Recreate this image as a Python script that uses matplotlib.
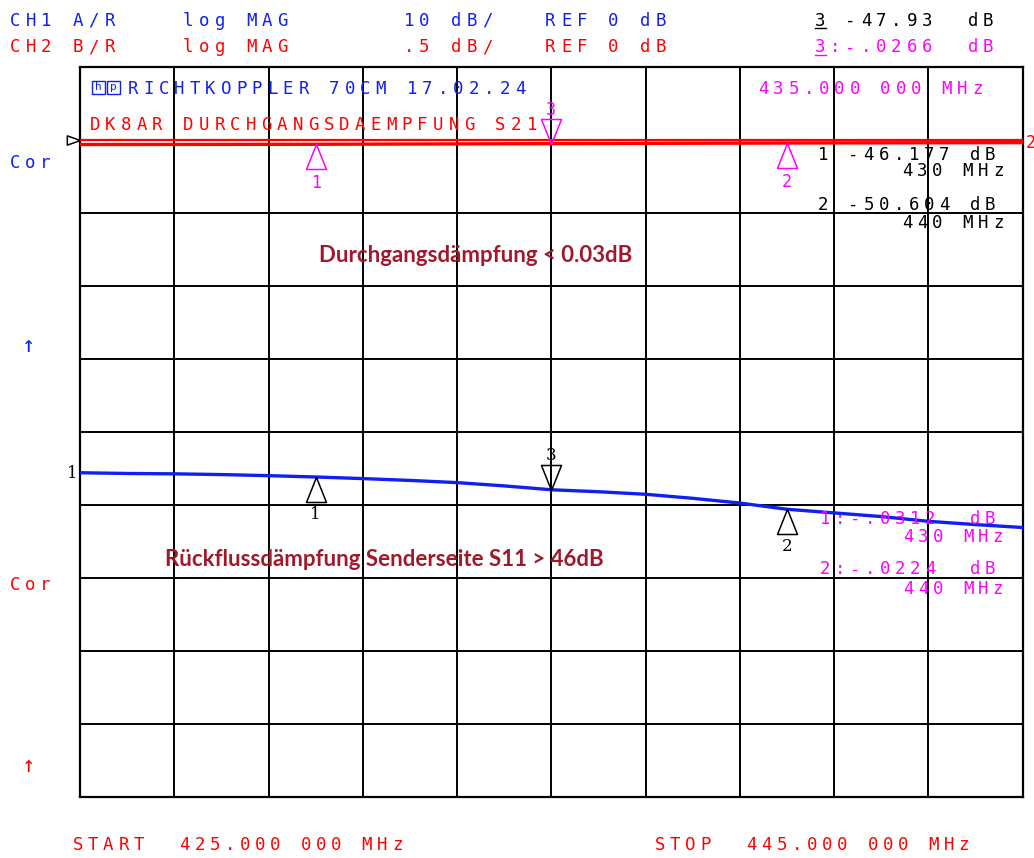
import numpy as np
import matplotlib.pyplot as plt
from matplotlib.path import Path
from matplotlib.patches import Rectangle

# ------------------------------------------------------------------
# Messwerte (abgelesen vom Netzwerkanalysator-Screenshot)
# ------------------------------------------------------------------
freq_mhz = [425, 426, 427, 428, 429, 430, 431, 432, 433, 434, 435,
            436, 437, 438, 439, 440, 441, 442, 443, 444, 445]
s11_db = [-45.6, -45.7, -45.75, -45.85, -46.0, -46.18, -46.4, -46.65, -46.95, -47.4, -47.93,
          -48.2, -48.55, -49.1, -49.75, -50.6, -51.1, -51.6, -52.25, -52.7, -53.1]

s21_freq = [425, 430, 435, 440, 445]
s21_db = [-0.033, -0.0312, -0.0266, -0.0224, -0.020]

marker_ids = [1, 2, 3]
marker_freq = [430, 440, 435]
marker_s11 = [-46.177, -50.604, -47.93]
marker_s21 = [-0.0312, -0.0224, -0.0266]

W, H = 1034, 858
BLUE = '#1020f0'
RED = '#ff0000'
MAG = '#ff00ff'
NOTE = '#a0182a'

fig = plt.figure(figsize=(W / 100, H / 100), dpi=100)
fig.patch.set_facecolor('white')


def hp(x, y, s, color, pitch=15.5, size=12.5, family='DejaVu Sans Mono'):
    # Plotter-Schrift: jedes Zeichen auf festes Raster setzen
    for i, ch in enumerate(s):
        if ch == ' ':
            continue
        fig.text((x + 5 + i * pitch) / W, 1 - (y + 6.5) / H, ch, color=color,
                 fontsize=size, family=family, ha='center', va='baseline')


def s21_str(v):
    return f"{v:.4f}".replace("-0.", "-.")


# ------------------------------------------------------------------
# Raster: 10 x 10 Teilungen
# ------------------------------------------------------------------
ax = fig.add_axes([80 / W, 1 - 797 / H, (1022.7 - 80) / W, (797 - 66.7) / H])
ax.set_xlim(425, 445)
ax.set_ylim(-90, 10)          # CH1: 10 dB/div, REF 0 dB
ax.set_xticks(np.arange(425, 446, 2))
ax.set_yticks(np.arange(-90, 11, 10))
ax.tick_params(length=0, labelbottom=False, labelleft=False)
ax.grid(True, color='black', linewidth=1.4)
for sp in ax.spines.values():
    sp.set_linewidth(1.6)
    sp.set_color('black')

ax2 = ax.twinx()
ax2.set_ylim(-4.5, 0.5)      # CH2: .5 dB/div, REF 0 dB
ax2.set_axis_off()

ax.plot(freq_mhz, s11_db, color=BLUE, linewidth=2.4, zorder=3)
ax2.axhline(0, color=RED, linewidth=1.6)
ax2.plot(s21_freq, s21_db, color=RED, linewidth=2.4)

up = Path([(0, 0), (-0.4, -1), (0.4, -1), (0, 0)])
down = Path([(0, 0), (-0.4, 1), (0.4, 1), (0, 0)])

for mid, f, v1, v2 in zip(marker_ids, marker_freq, marker_s11, marker_s21):
    mk = down if mid == 3 else up
    dy = 25 if mid == 3 else -27
    ax.plot(f, v1, marker=mk, ms=36, mfc='none', mec='black', mew=1.1, ls='none', zorder=4)
    ax.annotate(str(mid), xy=(f, v1), xytext=(0, dy), textcoords='offset points',
                ha='center', va='center', fontsize=12, family='DejaVu Serif', color='black')
    ax2.plot(f, v2, marker=mk, ms=36, mfc='none', mec=MAG, mew=1.1, ls='none', zorder=4)
    ax2.annotate(str(mid), xy=(f, v2), xytext=(0, dy - 1),
                 textcoords='offset points', ha='center', va='center', fontsize=12,
                 family='DejaVu Sans Mono', color=MAG)

# Referenzpfeil links
ref_mk = Path([(0, 0), (-1, 0.35), (-1, -0.35), (0, 0)])
ax.plot(425, 0, marker=ref_mk, ms=19, mfc='none', mec='black', mew=1.1, clip_on=False)
fig.text(72 / W, 1 - 473 / H, '1', fontsize=12, family='DejaVu Serif', ha='center', va='center')
fig.text(1026 / W, 1 - 143 / H, '2', fontsize=12, family='DejaVu Sans Mono', color=RED,
         ha='left', va='center')

# ------------------------------------------------------------------
# Kopfzeilen
# ------------------------------------------------------------------
hp(10, 19, "CH1 A/R    log MAG       10 dB/   REF 0 dB", BLUE, pitch=15.75)
hp(10, 46, "CH2 B/R    log MAG       .5 dB/   REF 0 dB", RED, pitch=15.75)
hp(815, 19, f"3 {marker_s11[2]:.2f}  dB", 'black', pitch=15.3)
hp(815, 46, f"3:{s21_str(marker_s21[2])}  dB", MAG, pitch=15.3)
fig.add_artist(plt.Line2D([815 / W, 826 / W], [1 - 28 / H, 1 - 28 / H], color='black', lw=1))
fig.add_artist(plt.Line2D([815 / W, 826 / W], [1 - 55 / H, 1 - 55 / H], color=MAG, lw=1))

# hp-Logo + Titel
fig.add_artist(Rectangle((92 / W, 1 - 94 / H), 13 / W, 13 / H, fill=False, ec=BLUE, lw=1))
fig.add_artist(Rectangle((107 / W, 1 - 94 / H), 13 / W, 13 / H, fill=False, ec=BLUE, lw=1))
fig.text(98.5 / W, 1 - 87.5 / H, 'h', fontsize=8, color=BLUE, ha='center', va='center',
         family='DejaVu Sans Mono')
fig.text(113.5 / W, 1 - 87.5 / H, 'p', fontsize=8, color=BLUE, ha='center', va='center',
         family='DejaVu Sans Mono')
hp(128, 87, "RICHTKOPPLER 70CM 17.02.24", BLUE)
hp(90, 123, "DK8AR DURCHGANGSDAEMPFUNG S21", RED, pitch=15.6)
hp(758, 87, f"{marker_freq[2]:.3f} 000 MHz", MAG, pitch=15.3)

# Markerwerte CH1
hp(818, 153, f"1 {marker_s11[0]:.3f} dB", 'black', pitch=15.2)
hp(902, 170, f"{marker_freq[0]} MHz", 'black', pitch=15.2)
hp(818, 203, f"2 {marker_s11[1]:.3f} dB", 'black', pitch=15.2)
hp(902, 222, f"{marker_freq[1]} MHz", 'black', pitch=15.2)

# Markerwerte CH2
hp(820, 517, f"1:{s21_str(marker_s21[0])}  dB", MAG, pitch=15.0)
hp(903, 535, f"{marker_freq[0]} MHz", MAG, pitch=15.0)
hp(820, 568, f"2:{s21_str(marker_s21[1])}  dB", MAG, pitch=15.0)
hp(903, 587, f"{marker_freq[1]} MHz", MAG, pitch=15.0)

# linke Randbeschriftung
hp(10, 162, "Cor", BLUE, pitch=15.0)
hp(24, 345, "↑", BLUE, size=16)
hp(10, 584, "Cor", RED, pitch=15.0)
hp(24, 766, "↑", RED, size=16)

# Start / Stop
hp(73, 843, f"START  {freq_mhz[0]:.3f} 000 MHz", RED, pitch=15.2)
hp(655, 843, f"STOP  {freq_mhz[-1]:.3f} 000 MHz", RED, pitch=15.2)

# Kommentare
fig.text(476 / W, 1 - 256 / H, "Durchgangsdämpfung < 0.03dB", color=NOTE, fontsize=16,
         fontweight='bold', family='Lato', ha='center', va='center')
fig.text(384 / W, 1 - 560 / H, "Rückflussdämpfung Senderseite S11 > 46dB", color=NOTE,
         fontsize=16, fontweight='bold', family='Lato', ha='center', va='center')

fig.savefig('out.png', dpi=100)
